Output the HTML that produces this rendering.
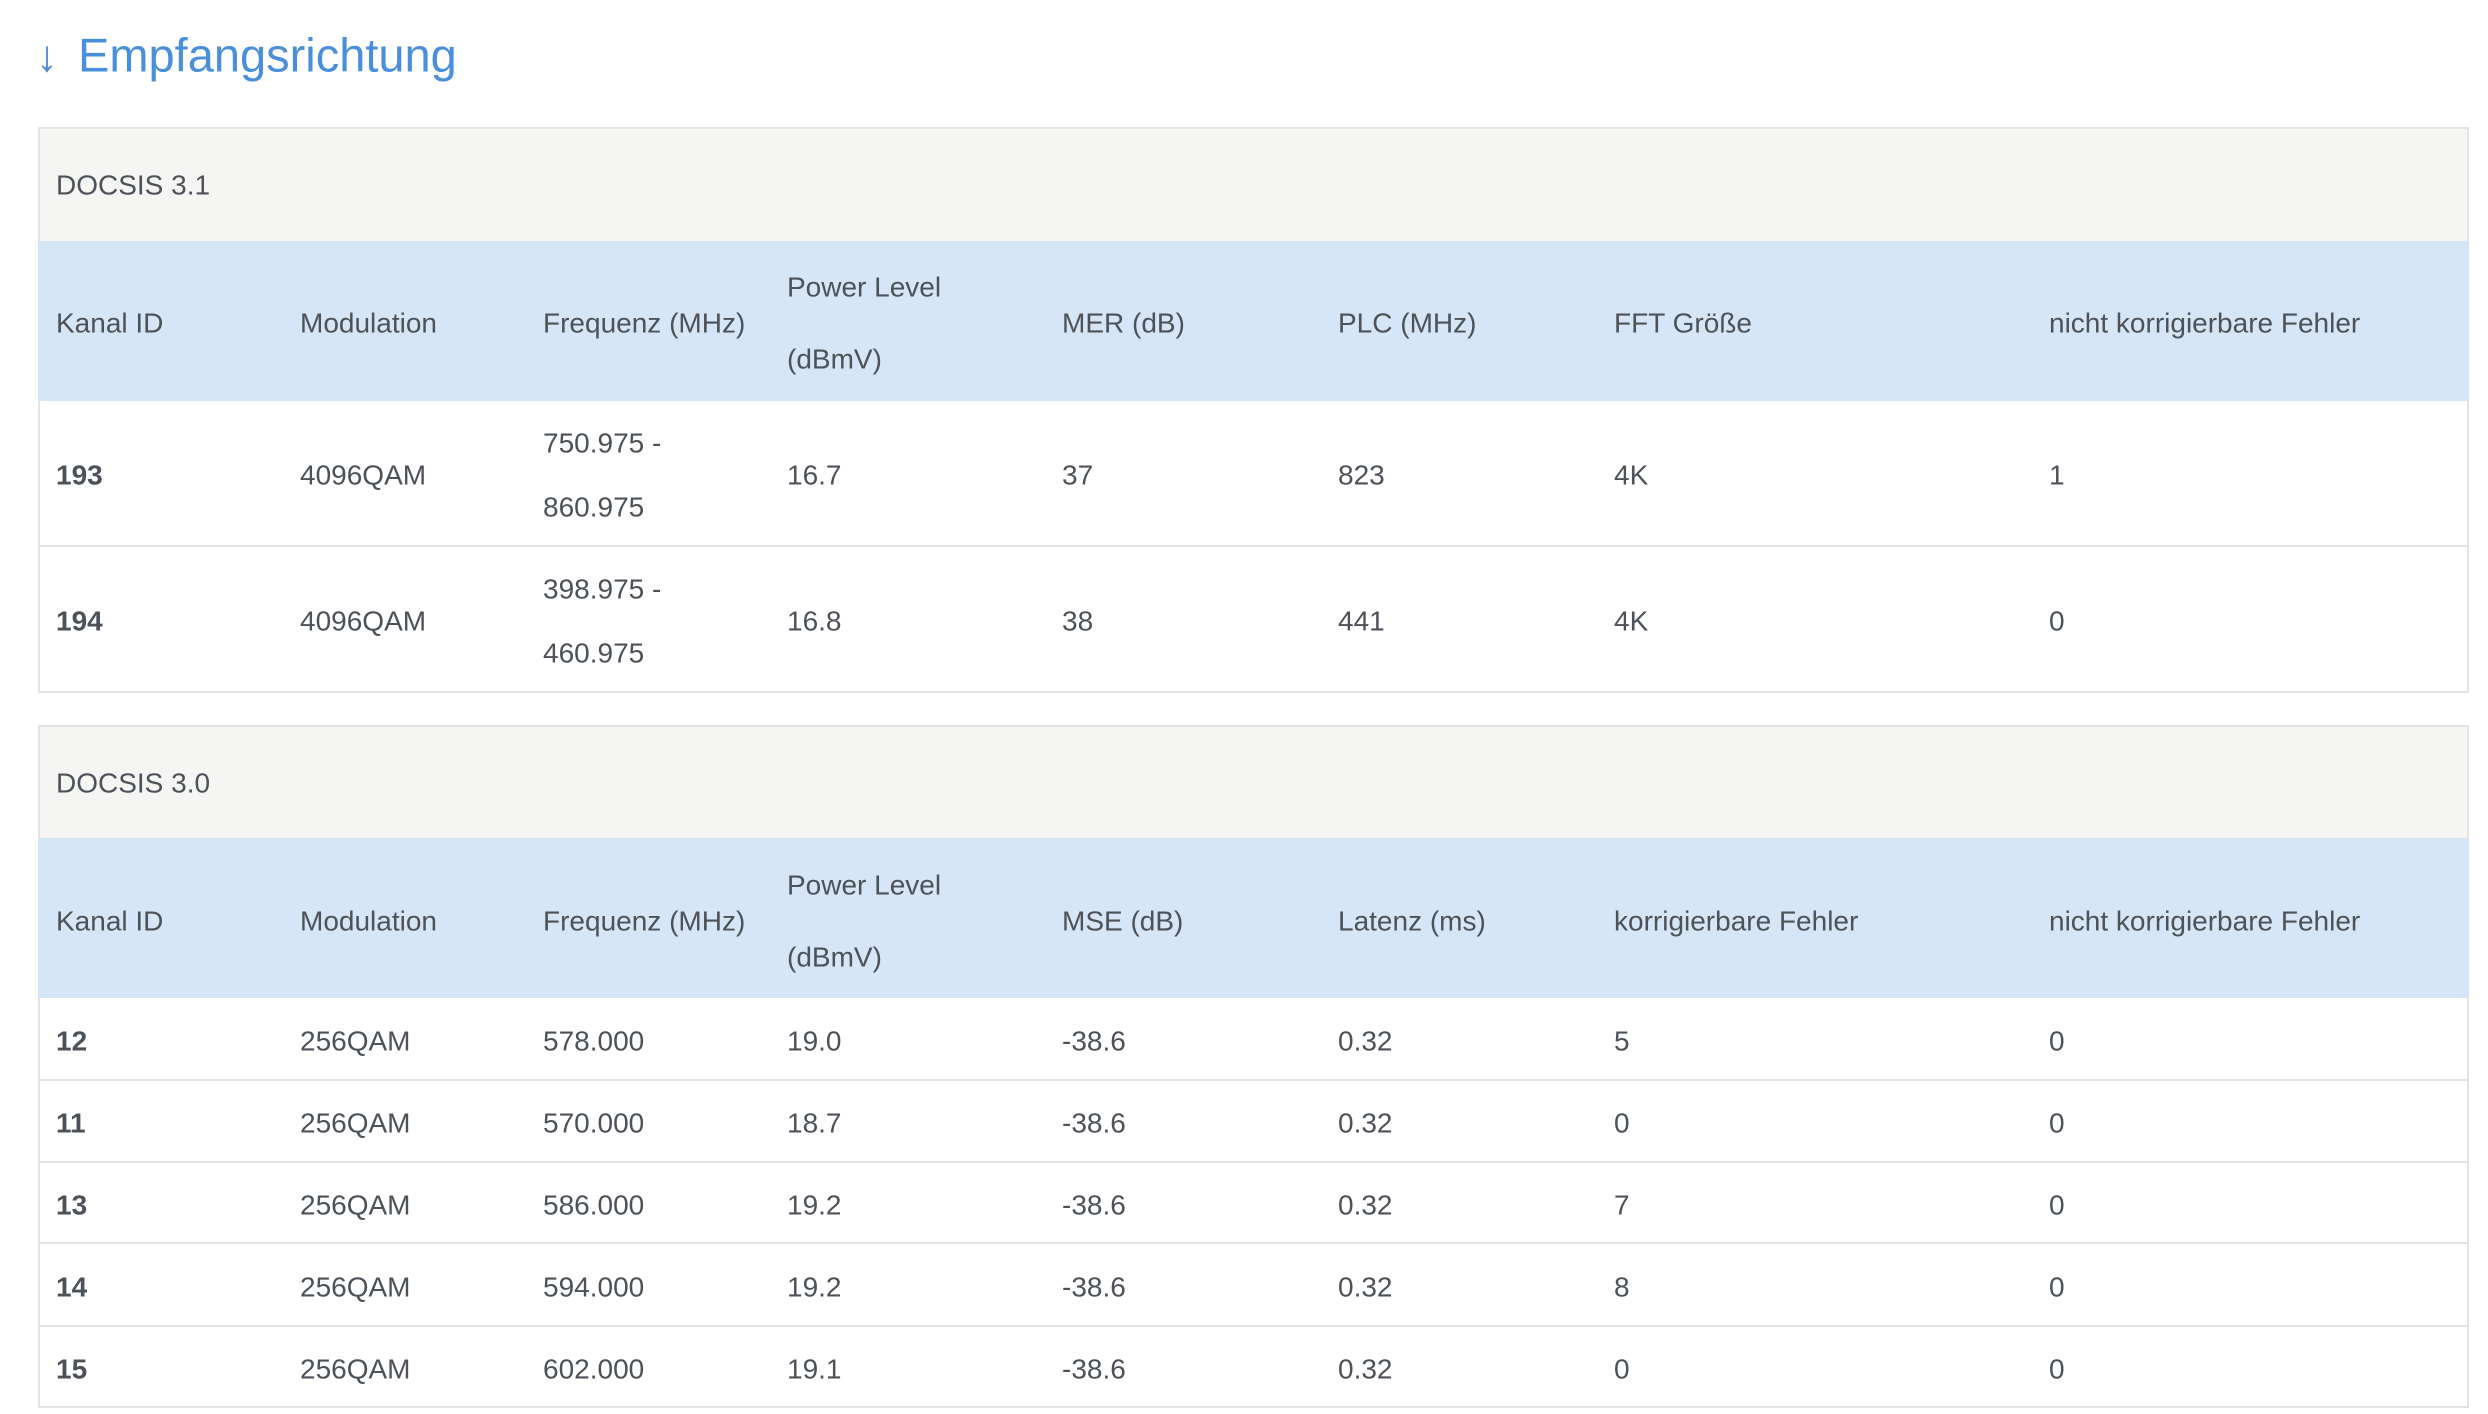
<!DOCTYPE html>
<html><head><meta charset="utf-8"><style>
*{margin:0;padding:0;box-sizing:border-box}
body{width:2488px;height:1414px;background:#fff;position:relative;overflow:hidden;font-family:"Liberation Sans",sans-serif;color:#4d5259}
.t{position:absolute;font-size:28px;white-space:nowrap;line-height:1;transform:translateY(-48%)}
.b{font-weight:bold}
.box{position:absolute;left:38px;width:2431px}
.gray{background:#f5f5f4;border:2px solid #e4e4e4;border-bottom:none}
.blue{background:#d6e6f6}
.row{background:#fff;border-left:2px solid #e4e4e4;border-right:2px solid #e4e4e4;border-bottom:2px solid #e4e4e4}
</style></head><body>
<div class="t" style="left:36px;top:56px;font-size:44px;color:#4a8fdb">↓</div>
<div class="t" style="left:78px;top:54px;font-size:47px;color:#4a8fdb">Empfangsrichtung</div>

<div class="box gray" style="top:127px;height:114px"></div>
<div class="box blue" style="top:241px;height:160px"></div>
<div class="box row" style="top:401px;height:146px"></div>
<div class="box row" style="top:547px;height:146px"></div>
<div class="t" style="left:56px;top:185px">DOCSIS 3.1</div>

<div class="t" style="left:56px;top:323px">Kanal ID</div>
<div class="t" style="left:300px;top:323px">Modulation</div>
<div class="t" style="left:543px;top:323px">Frequenz (MHz)</div>
<div class="t" style="left:787px;top:287px">Power Level</div>
<div class="t" style="left:787px;top:359px">(dBmV)</div>
<div class="t" style="left:1062px;top:323px">MER (dB)</div>
<div class="t" style="left:1338px;top:323px">PLC (MHz)</div>
<div class="t" style="left:1614px;top:323px">FFT Größe</div>
<div class="t" style="left:2049px;top:323px">nicht korrigierbare Fehler</div>

<div class="t b" style="left:56px;top:475px">193</div>
<div class="t" style="left:300px;top:475px">4096QAM</div>
<div class="t" style="left:543px;top:443px">750.975 -</div>
<div class="t" style="left:543px;top:507px">860.975</div>
<div class="t" style="left:787px;top:475px">16.7</div>
<div class="t" style="left:1062px;top:475px">37</div>
<div class="t" style="left:1338px;top:475px">823</div>
<div class="t" style="left:1614px;top:475px">4K</div>
<div class="t" style="left:2049px;top:475px">1</div>

<div class="t b" style="left:56px;top:621px">194</div>
<div class="t" style="left:300px;top:621px">4096QAM</div>
<div class="t" style="left:543px;top:589px">398.975 -</div>
<div class="t" style="left:543px;top:653px">460.975</div>
<div class="t" style="left:787px;top:621px">16.8</div>
<div class="t" style="left:1062px;top:621px">38</div>
<div class="t" style="left:1338px;top:621px">441</div>
<div class="t" style="left:1614px;top:621px">4K</div>
<div class="t" style="left:2049px;top:621px">0</div>

<div class="box gray" style="top:725px;height:113px"></div>
<div class="box blue" style="top:838px;height:160px"></div>
<div class="box row" style="top:998px;height:83px"></div>
<div class="box row" style="top:1081px;height:82px"></div>
<div class="box row" style="top:1163px;height:81px"></div>
<div class="box row" style="top:1244px;height:83px"></div>
<div class="box row" style="top:1327px;height:81px"></div>
<div class="t" style="left:56px;top:783px">DOCSIS 3.0</div>

<div class="t" style="left:56px;top:921px">Kanal ID</div>
<div class="t" style="left:300px;top:921px">Modulation</div>
<div class="t" style="left:543px;top:921px">Frequenz (MHz)</div>
<div class="t" style="left:787px;top:885px">Power Level</div>
<div class="t" style="left:787px;top:957px">(dBmV)</div>
<div class="t" style="left:1062px;top:921px">MSE (dB)</div>
<div class="t" style="left:1338px;top:921px">Latenz (ms)</div>
<div class="t" style="left:1614px;top:921px">korrigierbare Fehler</div>
<div class="t" style="left:2049px;top:921px">nicht korrigierbare Fehler</div>

<div class="t b" style="left:56px;top:1041px">12</div><div class="t" style="left:300px;top:1041px">256QAM</div><div class="t" style="left:543px;top:1041px">578.000</div><div class="t" style="left:787px;top:1041px">19.0</div><div class="t" style="left:1062px;top:1041px">-38.6</div><div class="t" style="left:1338px;top:1041px">0.32</div><div class="t" style="left:1614px;top:1041px">5</div><div class="t" style="left:2049px;top:1041px">0</div>
<div class="t b" style="left:56px;top:1123px">11</div><div class="t" style="left:300px;top:1123px">256QAM</div><div class="t" style="left:543px;top:1123px">570.000</div><div class="t" style="left:787px;top:1123px">18.7</div><div class="t" style="left:1062px;top:1123px">-38.6</div><div class="t" style="left:1338px;top:1123px">0.32</div><div class="t" style="left:1614px;top:1123px">0</div><div class="t" style="left:2049px;top:1123px">0</div>
<div class="t b" style="left:56px;top:1205px">13</div><div class="t" style="left:300px;top:1205px">256QAM</div><div class="t" style="left:543px;top:1205px">586.000</div><div class="t" style="left:787px;top:1205px">19.2</div><div class="t" style="left:1062px;top:1205px">-38.6</div><div class="t" style="left:1338px;top:1205px">0.32</div><div class="t" style="left:1614px;top:1205px">7</div><div class="t" style="left:2049px;top:1205px">0</div>
<div class="t b" style="left:56px;top:1287px">14</div><div class="t" style="left:300px;top:1287px">256QAM</div><div class="t" style="left:543px;top:1287px">594.000</div><div class="t" style="left:787px;top:1287px">19.2</div><div class="t" style="left:1062px;top:1287px">-38.6</div><div class="t" style="left:1338px;top:1287px">0.32</div><div class="t" style="left:1614px;top:1287px">8</div><div class="t" style="left:2049px;top:1287px">0</div>
<div class="t b" style="left:56px;top:1369px">15</div><div class="t" style="left:300px;top:1369px">256QAM</div><div class="t" style="left:543px;top:1369px">602.000</div><div class="t" style="left:787px;top:1369px">19.1</div><div class="t" style="left:1062px;top:1369px">-38.6</div><div class="t" style="left:1338px;top:1369px">0.32</div><div class="t" style="left:1614px;top:1369px">0</div><div class="t" style="left:2049px;top:1369px">0</div>
</body></html>
